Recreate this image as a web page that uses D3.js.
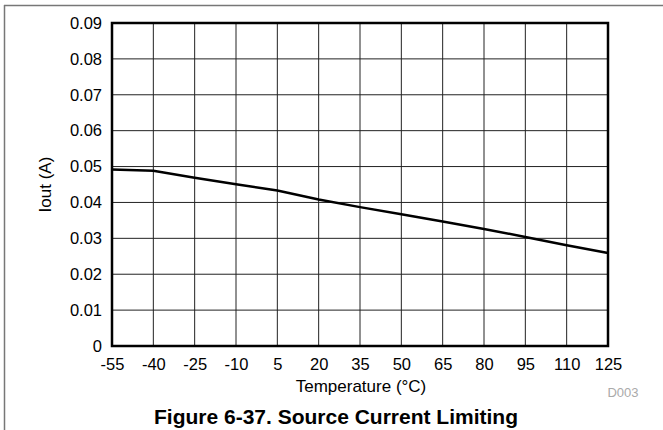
<!doctype html>
<html lang="en">
<head>
<meta charset="utf-8" />
<style>
  body { margin: 0; background: #fff; }
  svg text { font-family: "Liberation Sans", Arial, sans-serif; fill: #000; }
  .tick text { font-size: 16.5px; }
</style>
</head>
<body>
<div id="chart"></div>
<script src="https://d3js.org/d3.v7.min.js"></script>
<script>
  // temperature (°C) vs source current limit (A)
  var temps = [-55, -40, -25, -10, 5, 20, 35, 50, 65, 80, 95, 110, 125];
  var iout = [0.0492, 0.0488, 0.0469, 0.0451, 0.0433, 0.0408, 0.0387, 0.0367, 0.0347, 0.0326, 0.0304, 0.0281, 0.0259];
  var xTicks = [-55, -40, -25, -10, 5, 20, 35, 50, 65, 80, 95, 110, 125];
  var yTicks = [0, 0.01, 0.02, 0.03, 0.04, 0.05, 0.06, 0.07, 0.08, 0.09];

  var width = 663, height = 430;
  var margin = {left: 112, right: 55, top: 23, bottom: 84};

  var svg = d3.select("#chart").append("svg")
      .attr("width", width)
      .attr("height", height);

  // page frame lines
  svg.append("line").attr("x1", 4).attr("x2", width).attr("y1", 5.5).attr("y2", 5.5)
    .attr("stroke", "#777").attr("stroke-width", 1.5);
  svg.append("line").attr("x1", 4.5).attr("x2", 4.5).attr("y1", 5).attr("y2", height)
    .attr("stroke", "#777").attr("stroke-width", 1.5);

  var x = d3.scaleLinear().domain([-55, 125]).range([margin.left, width - margin.right]);
  var y = d3.scaleLinear().domain([0, 0.09]).range([height - margin.bottom, margin.top]);

  var grid = svg.append("g");
  grid.selectAll("line.v").data(xTicks.slice(1, -1)).enter().append("line")
    .attr("x1", d => x(d)).attr("x2", d => x(d))
    .attr("y1", y(0)).attr("y2", y(0.09))
    .attr("stroke", "#222").attr("stroke-width", 1);
  grid.selectAll("line.h").data(yTicks.slice(1, -1)).enter().append("line")
    .attr("x1", x(-55)).attr("x2", x(125))
    .attr("y1", d => y(d)).attr("y2", d => y(d))
    .attr("stroke", "#222").attr("stroke-width", 1);

  var xAxis = svg.append("g")
    .attr("transform", "translate(0," + y(0) + ")")
    .call(d3.axisBottom(x).tickValues(xTicks).tickSize(0).tickPadding(12).tickFormat(d => String(d)));
  xAxis.select(".domain").remove();

  var yAxis = svg.append("g")
    .attr("transform", "translate(" + x(-55) + ",0)")
    .call(d3.axisLeft(y).tickValues(yTicks).tickSize(0).tickPadding(10)
      .tickFormat(d => d === 0 ? "0" : d3.format(".2f")(d)));
  yAxis.select(".domain").remove();

  var line = d3.line().x((d, i) => x(temps[i])).y(d => y(d));
  svg.append("path")
    .datum(iout)
    .attr("fill", "none")
    .attr("stroke", "#000")
    .attr("stroke-width", 2.5)
    .attr("d", line);

  // plot frame
  svg.append("rect")
    .attr("x", x(-55)).attr("y", y(0.09))
    .attr("width", x(125) - x(-55)).attr("height", y(0) - y(0.09))
    .attr("fill", "none").attr("stroke", "#000").attr("stroke-width", 2.5);

  svg.append("text")
    .attr("transform", "translate(45," + (y(0.045)) + ") rotate(-90)")
    .attr("text-anchor", "middle").attr("dy", "0.35em")
    .style("font-size", "17px")
    .text("Iout (A)");

  svg.append("text")
    .attr("x", 361).attr("y", 392)
    .attr("text-anchor", "middle")
    .style("font-size", "17px")
    .text("Temperature (°C)");

  svg.append("text")
    .attr("x", 623).attr("y", 397)
    .attr("text-anchor", "middle")
    .style("font-size", "13px").style("fill", "#aaa")
    .text("D003");

  svg.append("text")
    .attr("x", 336).attr("y", 424)
    .attr("text-anchor", "middle")
    .style("font-size", "21px").style("font-weight", "bold")
    .text("Figure 6-37. Source Current Limiting");
</script>
</body>
</html>
